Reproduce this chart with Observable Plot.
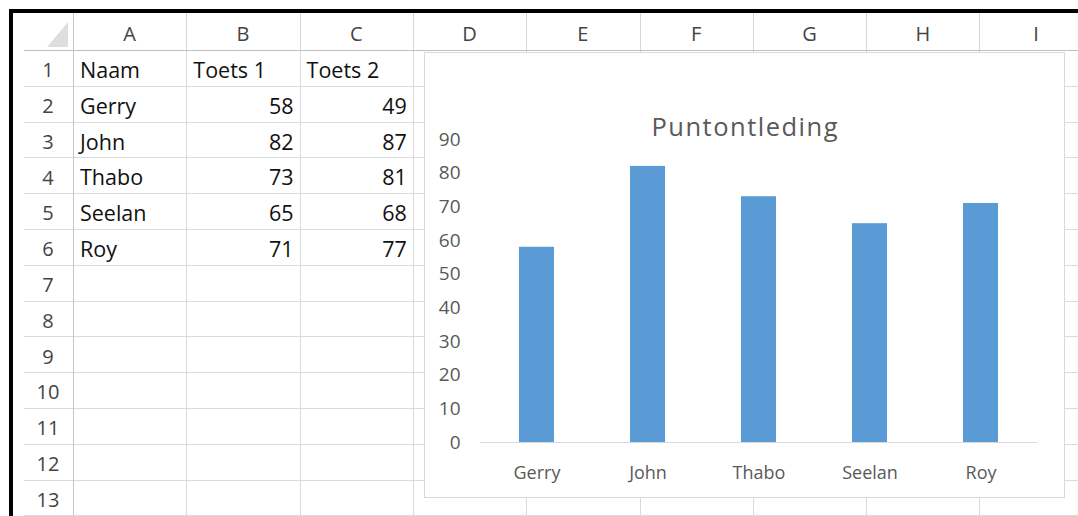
<!DOCTYPE html>
<html>
<head>
<meta charset="utf-8">
<script src="https://cdn.jsdelivr.net/npm/d3@7"></script>
<script src="https://cdn.jsdelivr.net/npm/@observablehq/plot@0.6"></script>
<style>
  html, body { margin: 0; padding: 0; background: #ffffff; }
  body { width: 1078px; height: 516px; overflow: hidden; position: relative; font-family: "Open Sans", sans-serif; }
  .abs { position: absolute; }
  .t { position: absolute; white-space: nowrap; }
</style>
</head>
<body>
<div id="sheet"></div>
<div id="chartbox" class="abs" style="left:424px;top:52px;width:641px;height:446px;background:#fff;border:1px solid #d9d9d9;box-sizing:border-box;"></div>
<div id="title" class="t" style="left:424px;width:641px;text-align:center;font-size:25.5px;line-height:25.5px;letter-spacing:1.5px;color:#595959;padding-left:1.5px;box-sizing:border-box;"></div>
<div id="chart" class="abs" style="left:424px;top:100px;"></div>
<script>
// ---- data ----
const kolomLetters = ["A", "B", "C", "D", "E", "F", "G", "H", "I"];
const rijNummers = [1, 2, 3, 4, 5, 6, 7, 8, 9, 10, 11, 12, 13];
const kopteksten = ["Naam", "Toets 1", "Toets 2"];
const namen = ["Gerry", "John", "Thabo", "Seelan", "Roy"];
const toets1 = [58, 82, 73, 65, 71];
const toets2 = [49, 87, 81, 68, 77];
const yTicks = [0, 10, 20, 30, 40, 50, 60, 70, 80, 90];
const titel = "Puntontleding";

// ---- spreadsheet (HTML) ----
const sheet = document.getElementById("sheet");
const colX = [73];
for (let i = 1; i <= kolomLetters.length; i++) colX.push(73 + 113.3 * i);
const rowY = [50];
for (let i = 1; i <= rijNummers.length; i++) rowY.push(50 + 35.8 * i);

function box(l, t, w, h, bg) {
  const d = document.createElement("div");
  d.className = "abs";
  d.style.cssText = `left:${l}px;top:${t}px;width:${w}px;height:${h}px;background:${bg};`;
  sheet.appendChild(d);
  return d;
}
function txt(s, x, base, fs, align, color) {
  const d = document.createElement("div");
  d.className = "t";
  d.textContent = s;
  const top = base - 0.888 * fs;
  let left = x, w = 300;
  if (align === "right") left = x - w;
  if (align === "center") left = x - w / 2;
  d.style.cssText = `left:${left}px;top:${top}px;width:${w}px;font-size:${fs}px;line-height:${fs}px;text-align:${align};color:${color};`;
  sheet.appendChild(d);
}

// grid lines
for (let i = 1; i < rowY.length; i++) box(24, Math.round(rowY[i]), 1078 - 24, 1, "#dadada");
for (let i = 1; i < colX.length; i++) {
  const x = Math.round(colX[i]);
  box(x, 13, 1, 37, "#d6d6d6");
  box(x, 50, 1, 466, "#dadada");
}
box(24, 50, 1078 - 24, 1, "#c0c0c0");
box(73, 13, 1, 503, "#c6c6c6");
// select-all triangle
const tri = box(47, 22, 21, 25, "#dedede");
tri.style.clipPath = "polygon(100% 0, 100% 100%, 0 100%)";
// black frame
box(9, 9, 1069, 4, "#000");
box(9, 9, 4, 507, "#000");

// headers
kolomLetters.forEach((c, i) => txt(c, (colX[i] + colX[i + 1]) / 2, 42, 20, "center", "#444"));
rijNummers.forEach((r, i) => txt(String(r), 48, rowY[i] + 28, 20, "center", "#444"));
// cells
kopteksten.forEach((h, j) => txt(h, colX[j] + 7, rowY[0] + 28, 21.5, "left", "#111"));
namen.forEach((n, i) => {
  const base = rowY[i + 1] + 28;
  txt(n, colX[0] + 7, base, 21.5, "left", "#111");
  txt(String(toets1[i]), colX[2] - 6, base, 21.5, "right", "#111");
  txt(String(toets2[i]), colX[3] - 6, base, 21.5, "right", "#111");
});

// ---- chart title ----
const tEl = document.getElementById("title");
tEl.textContent = titel;
tEl.style.top = (137 - 0.888 * 25.5) + "px";

// ---- chart (Observable Plot) ----
const data = namen.map((n, i) => ({naam: n, toets1: toets1[i]}));
const plot = Plot.plot({
  width: 641,
  height: 398,
  marginLeft: 56,
  marginRight: 28,
  marginTop: 39,
  marginBottom: 56,
  style: {fontFamily: "Open Sans", fontSize: "18px", color: "#595959", background: "transparent", overflow: "visible"},
  x: {domain: namen, paddingInner: 0.686, paddingOuter: 0.343, label: null},
  y: {domain: [0, 90], label: null},
  marks: [
    Plot.barY(data, {x: "naam", y: "toets1", fill: "#5b9bd5"}),
    Plot.ruleY([0], {stroke: "#d9d9d9", strokeWidth: 1}),
    Plot.axisX({tickSize: 0, tickPadding: 23.5, fontSize: 18, fill: "#595959", label: null}),
    Plot.axisY({ticks: yTicks, tickSize: 0, tickPadding: 20, fontSize: 19, fill: "#595959", label: null})
  ]
});
document.getElementById("chart").appendChild(plot);
</script>
</body>
</html>
